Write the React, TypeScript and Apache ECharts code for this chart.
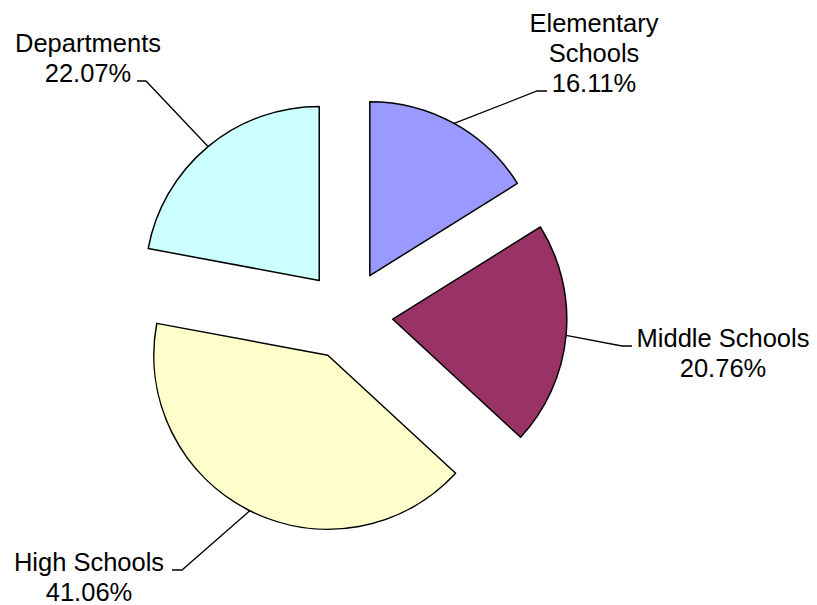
import React, { useEffect, useRef } from "react";
import * as echarts from "echarts";

// ---- data ----
const categories = ["Elementary Schools", "Middle Schools", "High Schools", "Departments"];
const labelNames = ["Elementary\nSchools", "Middle Schools", "High Schools", "Departments"];
const shares = [16.11, 20.76, 41.06, 22.07];

// ---- styles / layout ----
const colors = ["#9999FF", "#993366", "#FFFFCC", "#CCFFFF"];
const CENTER: [number, number] = [348, 315];
const RADIUS = 174;
const OFFSET = 45;
const FONT_SIZE = 25.5;
const LINE_HEIGHT = 30;
const LABEL_LAYOUT = [
  { x: 594, y: 53, elbow: [537, 91], end: [547, 91] },
  { x: 723, y: 353, elbow: [622, 346], end: [632, 346] },
  { x: 89, y: 577, elbow: [182, 570], end: [172, 570] },
  { x: 88, y: 58, elbow: [146, 81], end: [137, 81] },
];

export default function App() {
  const ref = useRef<HTMLDivElement>(null);
  useEffect(() => {
    if (!ref.current) return;
    const chart = echarts.init(ref.current, null, { renderer: "svg" });
    const total = shares.reduce((a, b) => a + b, 0);
    const mids: number[] = [];
    let cum = 0;
    shares.forEach((v) => {
      mids.push(((cum + v / 2) / total) * Math.PI * 2);
      cum += v;
    });
    const graphics: any[] = [];
    shares.forEach((v, i) => {
      const L = LABEL_LAYOUT[i];
      const a = mids[i];
      const d = RADIUS + OFFSET;
      const start = [CENTER[0] + d * Math.sin(a), CENTER[1] - d * Math.cos(a)];
      graphics.push({
        type: "polyline",
        silent: true,
        shape: { points: [start, L.elbow, L.end] },
        style: { stroke: "#000", lineWidth: 1.3, fill: null },
      });
      graphics.push({
        type: "text",
        silent: true,
        x: L.x,
        y: L.y,
        style: {
          text: `${labelNames[i]}\n${v.toFixed(2)}%`,
          align: "center",
          verticalAlign: "middle",
          fontFamily: "Liberation Sans, Arial, sans-serif",
          fontSize: FONT_SIZE,
          lineHeight: LINE_HEIGHT,
          fill: "#000",
        },
      });
    });
    chart.setOption({
      animation: false,
      backgroundColor: "#ffffff",
      graphic: { elements: graphics },
      series: [
        {
          type: "pie",
          radius: RADIUS,
          center: CENTER,
          startAngle: 90,
          clockwise: true,
          selectedMode: "multiple",
          selectedOffset: OFFSET,
          avoidLabelOverlap: false,
          emphasis: { disabled: true },
          label: { show: false },
          labelLine: { show: false },
          data: categories.map((name, i) => ({
            name,
            value: shares[i],
            selected: true,
            itemStyle: { color: colors[i], borderColor: "#000", borderWidth: 1.5 },
          })),
          select: {
            itemStyle: { borderColor: "#000", borderWidth: 1.5 },
          },
        },
      ],
    });
    return () => chart.dispose();
  }, []);
  return (
    <div
      ref={ref}
      style={{ position: "fixed", left: 0, top: 0, width: 817, height: 605, background: "#fff" }}
    />
  );
}
